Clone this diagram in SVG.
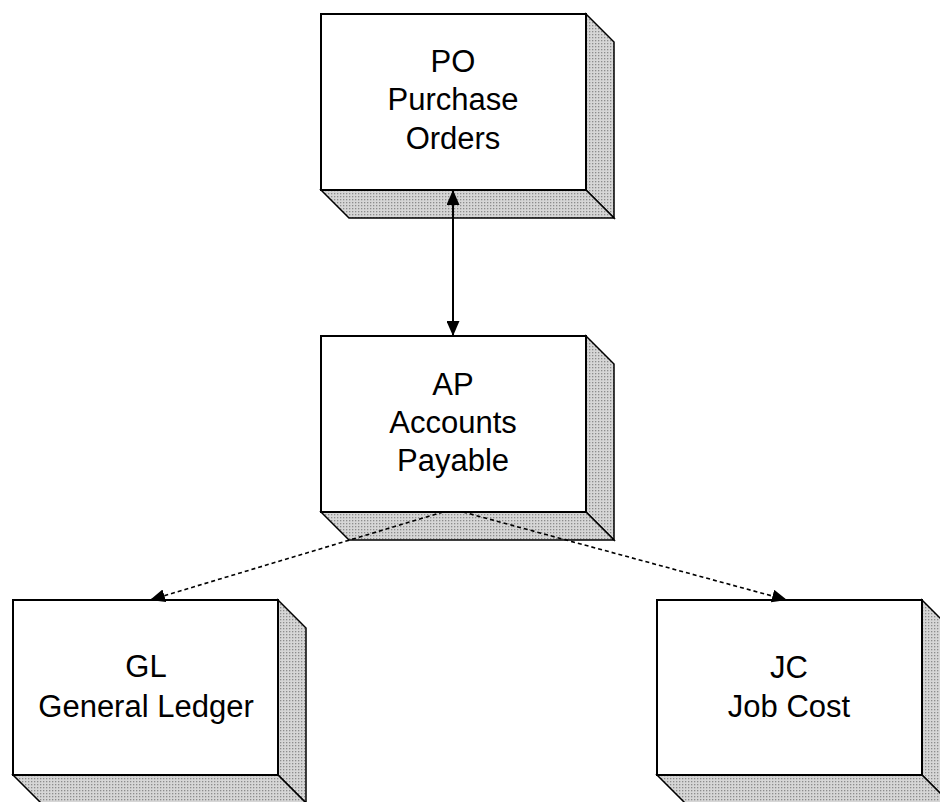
<svg xmlns="http://www.w3.org/2000/svg" width="940" height="802" viewBox="0 0 940 802">
<defs>
<pattern id="dots" width="3" height="3" patternUnits="userSpaceOnUse">
<rect width="3" height="3" fill="#d6d6d6"/>
<rect x="1" y="1" width="1.3" height="1.3" fill="#8c8c8c"/>
</pattern>
<marker id="ah" viewBox="0 0 15 13" refX="15" refY="6.5" markerWidth="15" markerHeight="13" markerUnits="userSpaceOnUse" orient="auto-start-reverse">
<path d="M0,0 L15,6.5 L0,13 Z" fill="#000"/>
</marker>
</defs>
<style>
.front{fill:#fff;stroke:#000;stroke-width:2}
.side{fill:url(#dots);stroke:#000;stroke-width:1.5;stroke-linejoin:miter}
.lbl{font-family:"Liberation Sans",Arial,sans-serif;font-size:31px;fill:#000;text-anchor:middle}
.solid{stroke:#000;stroke-width:2;fill:none}
.dash{stroke:#000;stroke-width:1.6;fill:none;stroke-dasharray:4 3}
</style>
<rect width="940" height="802" fill="#fff"/>
<g id="PO">
<polygon class="side" points="586,14 614,42 614,218 586,190"/>
<polygon class="side" points="321,190 586,190 614,218 349,218"/>
<rect class="front" x="321" y="14" width="265" height="176"/>
<text class="lbl" x="453" y="72">PO</text>
<text class="lbl" x="453" y="110">Purchase</text>
<text class="lbl" x="453" y="149">Orders</text>
</g>
<g id="AP">
<polygon class="side" points="586,336 614,364 614,540 586,512"/>
<polygon class="side" points="321,512 586,512 614,540 349,540"/>
<rect class="front" x="321" y="336" width="265" height="176"/>
<text class="lbl" x="453" y="395">AP</text>
<text class="lbl" x="453" y="433">Accounts</text>
<text class="lbl" x="453" y="471">Payable</text>
</g>
<g id="GL">
<polygon class="side" points="278,600 306,628 306,803 278,775"/>
<polygon class="side" points="13,775 278,775 306,803 41,803"/>
<rect class="front" x="13" y="600" width="265" height="175"/>
<text class="lbl" x="146" y="677">GL</text>
<text class="lbl" x="146" y="717">General Ledger</text>
</g>
<g id="JC">
<polygon class="side" points="922,600 950,628 950,803 922,775"/>
<polygon class="side" points="657,775 922,775 950,803 685,803"/>
<rect class="front" x="657" y="600" width="265" height="175"/>
<text class="lbl" x="789" y="678">JC</text>
<text class="lbl" x="789" y="717">Job Cost</text>
</g>
<g id="connectors">
<line class="solid" x1="453" y1="190" x2="453" y2="336" marker-start="url(#ah)" marker-end="url(#ah)"/>
<line class="dash" x1="443" y1="512" x2="150" y2="600" marker-end="url(#ah)"/>
<line class="dash" x1="463" y1="512" x2="787" y2="600" marker-end="url(#ah)"/>
</g>
</svg>
